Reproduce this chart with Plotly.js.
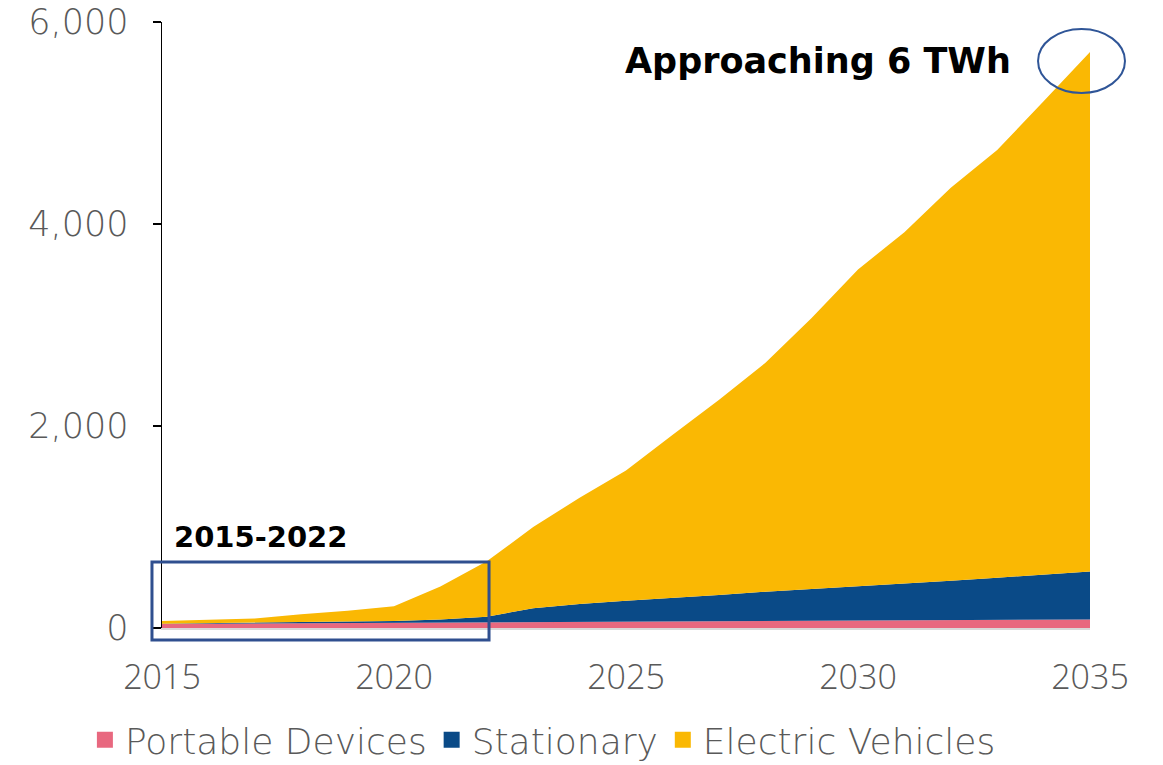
<!DOCTYPE html>
<html>
<head>
<meta charset="utf-8">
<script src="https://cdn.plot.ly/plotly-3.0.1.min.js"></script>
<style>html,body{margin:0;padding:0;background:#fff;}#chart{width:1163px;height:765px;}</style>
</head>
<body>
<div id="chart"></div>
<script>
const years = [2015,2016,2017,2018,2019,2020,2021,2022,2023,2024,2025,2026,2027,2028,2029,2030,2031,2032,2033,2034,2035];
const portableDevices = [40,42,44,46,48,50,52,55,58,61,64,66,68,70,72,74,76,78,80,82,84];
const stationary = [3,5,8,11,15,20,33,57,138,177,207,231,259,290,314,342,365,390,418,445,476];
const electricVehicles = [27,33,43,78,107,145,325,548,804,1052,1289,1613,1930,2264,2683,3134,3479,3892,4235,4688,5143];
const seriesNames = ['Portable Devices','Stationary','Electric Vehicles'];
const seriesColors = ['#E8687F','#0A4A87','#FAB803'];
const yTicks = [0,2000,4000,6000];
const yTickText = ['0','2,000','4,000','6,000'];
const xTicks = [2015,2020,2025,2030,2035];

const seriesValues = [portableDevices, stationary, electricVehicles];
const traces = seriesValues.map((vals, i) => ({
  x: years, y: vals, type: 'scatter', mode: 'lines', stackgroup: 'one',
  line: {width: 0, color: seriesColors[i]}, fillcolor: seriesColors[i],
  name: seriesNames[i], showlegend: false, hoverinfo: 'x+y+name'
}));
seriesNames.forEach((n, i) => traces.push({
  x: [null], y: [null], type: 'scatter', mode: 'markers', name: n,
  marker: {symbol: 'square', size: 22, color: seriesColors[i]}, showlegend: true
}));

const grey = '#595959';
const tickFamily = 'DejaVu Sans, sans-serif';
const layout = {
  width: 1163, height: 765,
  margin: {l: 162, r: 73, t: 22, b: 137, autoexpand: false},
  paper_bgcolor: '#fff', plot_bgcolor: '#fff',
  font: {family: tickFamily, color: grey},
  xaxis: {
    range: [2015, 2035], tickvals: xTicks, ticktext: xTicks.map(String),
    showgrid: false, zeroline: false, showline: true, linecolor: '#D9D9D9', linewidth: 2,
    ticks: '', tickfont: {size: 34, color: grey, family: 'Open Sans, sans-serif', weight: 300},
    ticklabelstandoff: 18, ticklabeloverflow: 'allow', automargin: false
  },
  yaxis: {
    range: [0, 6001], tickvals: yTicks, ticktext: yTickText,
    showgrid: false, zeroline: false, showline: true, linecolor: '#000', linewidth: 1.5,
    ticks: 'outside', ticklen: 8, tickcolor: '#000', tickwidth: 1.5,
    tickfont: {size: 35, color: grey, family: tickFamily, weight: 300},
    ticklabelstandoff: 17, ticklabeloverflow: 'allow', automargin: false
  },
  showlegend: true,
  legend: {
    orientation: 'h', traceorder: 'normal',
    x: 0.073, xref: 'container', xanchor: 'left',
    y: 0.033, yref: 'container', yanchor: 'middle',
    font: {size: 36, color: grey, family: tickFamily, weight: 300},
    itemwidth: 30, tracegroupgap: 0
  },
  annotations: [
    {text: '<b>Approaching 6 TWh</b>', xref: 'paper', yref: 'paper', x: 0.917, y: 0.9356,
     xanchor: 'right', yanchor: 'middle', showarrow: false,
     font: {size: 35, color: '#000', family: 'DejaVu Sans, sans-serif'}},
    {text: '<b>2015-2022</b>', xref: 'paper', yref: 'paper', x: 0.0108, y: 0.150,
     xanchor: 'left', yanchor: 'middle', showarrow: false,
     font: {size: 29, color: '#000', family: 'DejaVu Sans, sans-serif'}}
  ],
  shapes: [
    {type: 'rect', xref: 'paper', yref: 'paper', x0: -0.0108, x1: 0.3524, y0: -0.0198, y1: 0.1089,
     line: {color: '#2F4F8F', width: 3}, fillcolor: 'rgba(0,0,0,0)', layer: 'above'},
    {type: 'circle', xref: 'paper', yref: 'paper', x0: 0.944, x1: 1.0377, y0: 0.8828, y1: 0.9884,
     line: {color: '#2F5597', width: 2}, fillcolor: 'rgba(0,0,0,0)', layer: 'above'}
  ]
};
Plotly.newPlot('chart', traces, layout, {displayModeBar: false, staticPlot: true});
</script>
</body>
</html>
